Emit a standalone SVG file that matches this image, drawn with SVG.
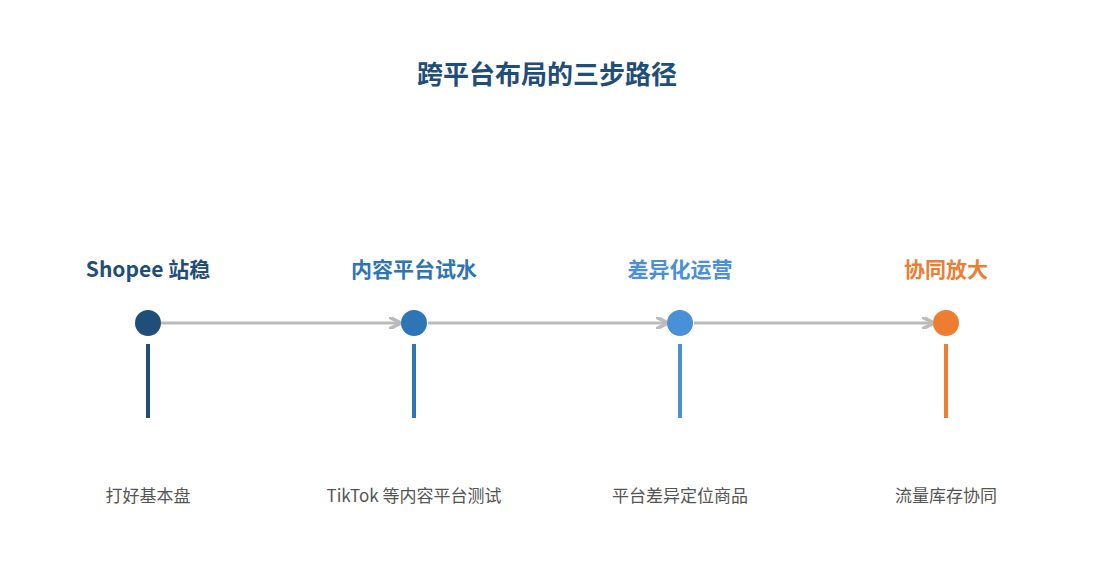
<svg xmlns="http://www.w3.org/2000/svg" width="1095" height="585" viewBox="0 0 1095 585">
<style>
text{font-family:"Noto Sans CJK SC","Noto Sans",sans-serif}
.t{font-size:21px;font-weight:bold;text-anchor:middle}
.d{font-size:17px;fill:#555;text-anchor:middle}
.c{stroke:#bbb;stroke-width:3;fill:none}
</style>
<defs><marker id="a" viewBox="0 0 10 10" refX="9" refY="5" markerWidth="4" markerHeight="4" orient="auto"><path d="M0,0L10,5L0,10" fill="none" stroke="#bbb" stroke-width="3"/></marker></defs>
<rect width="1095" height="585" fill="#fff"/>
<text x="547" y="84" class="t" font-size="26" style="font-size:26px" fill="#1f4e79">跨平台布局的三步路径</text>
<g id="connectors">
<line class="c" x1="161" y1="323" x2="400" y2="323" marker-end="url(#a)"/>
<line class="c" x1="428" y1="323" x2="667" y2="323" marker-end="url(#a)"/>
<line class="c" x1="694" y1="323" x2="933" y2="323" marker-end="url(#a)"/>
</g>
<g id="n1"><text x="148" y="277" class="t" fill="#1f4e79">Shopee 站稳</text><circle cx="148" cy="323" r="13" fill="#1f4e79"/><rect x="146" y="344" width="4" height="74" fill="#1f4e79"/><text x="148" y="502" class="d">打好基本盘</text></g>
<g id="n2"><text x="414" y="277" class="t" fill="#2e75b6">内容平台试水</text><circle cx="414" cy="323" r="13" fill="#2e75b6"/><rect x="412" y="344" width="4" height="74" fill="#2e75b6"/><text x="414" y="502" class="d">TikTok 等内容平台测试</text></g>
<g id="n3"><text x="680" y="277" class="t" fill="#4a90d9">差异化运营</text><circle cx="680" cy="323" r="13" fill="#4a90d9"/><rect x="678" y="344" width="4" height="74" fill="#4a90d9"/><text x="680" y="502" class="d">平台差异定位商品</text></g>
<g id="n4"><text x="946" y="277" class="t" fill="#ed7d31">协同放大</text><circle cx="946" cy="323" r="13" fill="#ed7d31"/><rect x="944" y="344" width="4" height="74" fill="#ed7d31"/><text x="946" y="502" class="d">流量库存协同</text></g>
</svg>
